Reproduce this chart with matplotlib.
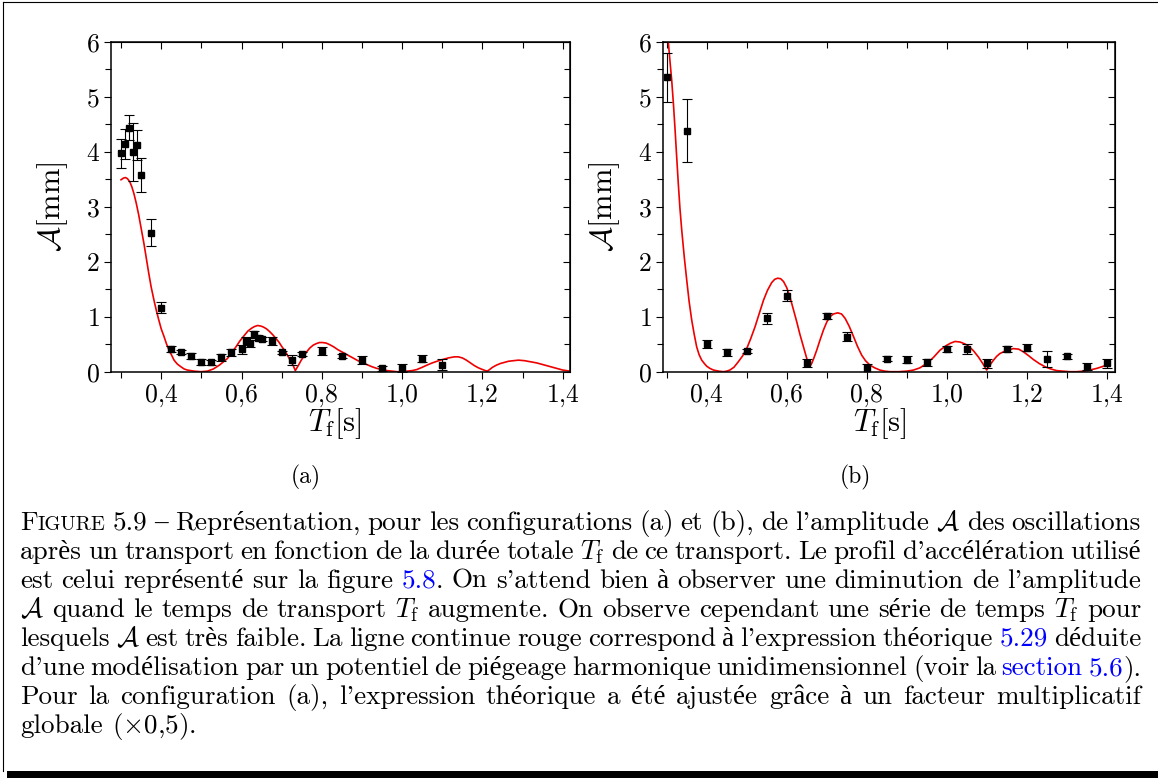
import numpy as np
import matplotlib
matplotlib.use("Agg")
import matplotlib.pyplot as plt
from matplotlib.ticker import MultipleLocator, FuncFormatter
from matplotlib.lines import Line2D
from matplotlib.patches import Rectangle

plt.rcParams['font.family'] = ['cmr10', 'Liberation Serif']
plt.rcParams['mathtext.fontset'] = 'cm'
plt.rcParams['axes.formatter.use_mathtext'] = True

# ---- data, configuration (a) ----
xa = [0.300, 0.311, 0.320, 0.330, 0.340, 0.350, 0.375, 0.400, 0.425, 0.450,
      0.475, 0.500, 0.525, 0.550, 0.575, 0.600, 0.610, 0.620, 0.630, 0.640,
      0.650, 0.675, 0.700, 0.725, 0.750, 0.800, 0.850, 0.900, 0.950, 1.000,
      1.050, 1.100]
ya = [3.97, 4.14, 4.44, 4.00, 4.12, 3.58, 2.53, 1.16, 0.41, 0.36,
      0.29, 0.18, 0.17, 0.26, 0.35, 0.41, 0.56, 0.53, 0.68, 0.62,
      0.59, 0.56, 0.35, 0.21, 0.32, 0.38, 0.29, 0.21, 0.06, 0.07,
      0.24, 0.13]
ea = [0.26, 0.28, 0.23, 0.53, 0.27, 0.31, 0.24, 0.10, 0.06, 0.04,
      0.05, 0.06, 0.05, 0.06, 0.07, 0.08, 0.07, 0.08, 0.06, 0.04,
      0.04, 0.07, 0.03, 0.09, 0.04, 0.07, 0.04, 0.07, 0.04, 0.07,
      0.07, 0.10]

# theory curve (a)
ta_x = [0.300, 0.306, 0.311, 0.316, 0.322, 0.327, 0.332, 0.338, 0.344, 0.350,
        0.357, 0.363, 0.369, 0.375, 0.382, 0.388, 0.394, 0.400, 0.407, 0.413,
        0.419, 0.426, 0.432, 0.440, 0.449, 0.457, 0.465, 0.482, 0.499, 0.515,
        0.530, 0.545, 0.555, 0.565, 0.575, 0.586, 0.596, 0.607, 0.616, 0.625,
        0.632, 0.640, 0.648, 0.655, 0.662, 0.670, 0.678, 0.685, 0.693, 0.700,
        0.708, 0.715, 0.721, 0.726, 0.730, 0.734, 0.738, 0.742, 0.748, 0.755,
        0.762, 0.770, 0.778, 0.786, 0.794, 0.802, 0.811, 0.820, 0.830, 0.840,
        0.850, 0.860, 0.870, 0.880, 0.890, 0.900, 0.912, 0.925, 0.937, 0.950,
        0.962, 0.975, 0.987, 1.000, 1.012, 1.025, 1.037, 1.050, 1.062, 1.075,
        1.087, 1.100, 1.115, 1.130, 1.140, 1.150, 1.160, 1.170, 1.180, 1.190,
        1.200, 1.207, 1.212, 1.218, 1.225, 1.235, 1.245, 1.255, 1.265, 1.277,
        1.290, 1.305, 1.320, 1.335, 1.350, 1.365, 1.380, 1.390, 1.400, 1.418]
ta_y = [3.49, 3.52, 3.53, 3.51, 3.45, 3.36, 3.24, 3.06, 2.85, 2.61,
        2.33, 2.06, 1.79, 1.54, 1.30, 1.11, 0.94, 0.78, 0.64, 0.51,
        0.40, 0.30, 0.21, 0.14, 0.09, 0.05, 0.03, 0.01, 0.00, 0.01,
        0.05, 0.12, 0.18, 0.24, 0.34, 0.45, 0.56, 0.66, 0.74, 0.79,
        0.82, 0.84, 0.83, 0.81, 0.78, 0.73, 0.67, 0.61, 0.54, 0.46,
        0.38, 0.29, 0.21, 0.15, 0.09, 0.02, 0.07, 0.12, 0.20, 0.28,
        0.36, 0.43, 0.48, 0.51, 0.53, 0.53, 0.52, 0.49, 0.45, 0.40,
        0.36, 0.32, 0.28, 0.24, 0.20, 0.17, 0.13, 0.09, 0.06, 0.04,
        0.02, 0.01, 0.00, 0.00, 0.01, 0.02, 0.04, 0.08, 0.12, 0.16,
        0.19, 0.22, 0.25, 0.27, 0.27, 0.25, 0.21, 0.16, 0.11, 0.07,
        0.04, 0.02, 0.01, 0.04, 0.08, 0.12, 0.15, 0.17, 0.19, 0.20,
        0.21, 0.20, 0.18, 0.16, 0.13, 0.10, 0.07, 0.05, 0.03, 0.01]

# ---- data, configuration (b) ----
xb = [0.30, 0.35, 0.40, 0.45, 0.50, 0.55, 0.60, 0.65, 0.70, 0.75,
      0.80, 0.85, 0.90, 0.95, 1.00, 1.05, 1.10, 1.15, 1.20, 1.25,
      1.30, 1.35, 1.40]
yb = [5.35, 4.38, 0.51, 0.35, 0.38, 0.97, 1.38, 0.16, 1.01, 0.64,
      0.06, 0.24, 0.22, 0.17, 0.41, 0.42, 0.15, 0.41, 0.44, 0.23,
      0.28, 0.09, 0.15]
eb = [0.45, 0.57, 0.07, 0.07, 0.04, 0.10, 0.10, 0.08, 0.06, 0.09,
      0.08, 0.04, 0.07, 0.06, 0.06, 0.09, 0.09, 0.05, 0.07, 0.15,
      0.05, 0.06, 0.08]

tb_x = [0.300, 0.304, 0.308, 0.3125, 0.317, 0.321, 0.325, 0.329, 0.333, 0.3375,
        0.344, 0.350, 0.356, 0.3625, 0.369, 0.375, 0.381, 0.3875, 0.394, 0.400,
        0.408, 0.417, 0.430, 0.442, 0.450, 0.458, 0.468, 0.479, 0.490, 0.500,
        0.510, 0.521, 0.531, 0.542, 0.552, 0.5625, 0.570, 0.5775, 0.585, 0.592,
        0.600, 0.608, 0.616, 0.625, 0.633, 0.642, 0.649, 0.655, 0.659, 0.6625,
        0.668, 0.675, 0.683, 0.692, 0.700, 0.708, 0.717, 0.7275, 0.737, 0.746,
        0.756, 0.767, 0.777, 0.7875, 0.797, 0.808, 0.820, 0.833, 0.845, 0.858,
        0.880, 0.900, 0.917, 0.933, 0.950, 0.967, 0.983, 1.000, 1.010, 1.021,
        1.033, 1.044, 1.054, 1.067, 1.079, 1.090, 1.100, 1.108, 1.117, 1.125,
        1.133, 1.150, 1.167, 1.180, 1.192, 1.205, 1.217, 1.231, 1.246, 1.260,
        1.275, 1.290, 1.308, 1.325, 1.342, 1.358, 1.375, 1.388, 1.400]
tb_y = [6.30, 6.00, 5.66, 5.30, 4.85, 4.39, 3.90, 3.42, 2.98, 2.58,
        2.08, 1.67, 1.28, 0.94, 0.67, 0.45, 0.31, 0.21, 0.15, 0.10,
        0.06, 0.03, 0.01, 0.00, 0.01, 0.03, 0.08, 0.18, 0.29, 0.42,
        0.60, 0.82, 1.05, 1.30, 1.48, 1.62, 1.68, 1.70, 1.69, 1.64,
        1.53, 1.36, 1.15, 0.91, 0.68, 0.45, 0.27, 0.12, 0.11, 0.15,
        0.25, 0.39, 0.57, 0.76, 0.90, 1.00, 1.05, 1.07, 1.05, 0.97,
        0.83, 0.64, 0.46, 0.30, 0.20, 0.12, 0.07, 0.03, 0.01, 0.00,
        0.00, 0.01, 0.03, 0.07, 0.15, 0.26, 0.39, 0.48, 0.52, 0.55,
        0.54, 0.51, 0.47, 0.38, 0.27, 0.15, 0.03, 0.12, 0.21, 0.28,
        0.33, 0.39, 0.42, 0.41, 0.36, 0.29, 0.22, 0.15, 0.09, 0.05,
        0.02, 0.01, 0.00, 0.00, 0.01, 0.03, 0.06, 0.09, 0.12]

caption = [
    "FIGURE 5.9 – Représentation, pour les configurations (a) et (b), de l'amplitude $\\mathcal{A}$ des oscillations",
    "après un transport en fonction de la durée totale $T_\\mathrm{f}$ de ce transport. Le profil d'accélération utilisé",
    "est celui représenté sur la figure #5.8#. On s'attend bien à observer une diminution de l'amplitude",
    "$\\mathcal{A}$ quand le temps de transport $T_\\mathrm{f}$ augmente. On observe cependant une série de temps $T_\\mathrm{f}$ pour",
    "lesquels $\\mathcal{A}$ est très faible. La ligne continue rouge correspond à l'expression théorique #5.29# déduite",
    "d'une modélisation par un potentiel de piégeage harmonique unidimensionnel (voir la #section# #5.6#).",
    "Pour la configuration (a), l'expression théorique a été ajustée grâce à un facteur multiplicatif",
    "globale ($\\times$0,5).",
]

W, H = 1158, 778
fig = plt.figure(figsize=(W / 100, H / 100), dpi=100)

ax1 = fig.add_axes([111 / W, 1 - 371.7 / H, 459 / W, 330 / H])
ax2 = fig.add_axes([662.7 / W, 1 - 371.7 / H, 452.6 / W, 330 / H])

panels = [(ax1, xa, ya, ea, ta_x, ta_y, (0.275, 1.418), 0.488, 306, "(a)"),
          (ax2, xb, yb, eb, tb_x, tb_y, (0.29, 1.4215), 0.48, 855, "(b)")]

comma = FuncFormatter(lambda v, p: f"{v:.1f}".replace(".", ","))

for ax, x, y, e, tx, ty, xl, xlab_pos, tag_x, tag in panels:
    ax.plot(tx, ty, color="#ee0000", lw=1.2, zorder=2)
    ax.errorbar(x, y, yerr=e, fmt="s", color="black", ms=4.2, capsize=3.3,
                elinewidth=0.8, capthick=0.8, zorder=3)
    ax.set_xlim(*xl)
    ax.set_ylim(0, 6)
    ax.xaxis.set_major_locator(MultipleLocator(0.2))
    ax.xaxis.set_minor_locator(MultipleLocator(0.1))
    ax.yaxis.set_major_locator(MultipleLocator(1))
    ax.yaxis.set_minor_locator(MultipleLocator(0.5))
    ax.xaxis.set_major_formatter(comma)
    ax.tick_params(which="both", direction="out", labelsize=18.5, width=0.8, pad=3)
    ax.tick_params(which="major", length=5)
    ax.tick_params(which="minor", length=4)
    for s in ax.spines.values():
        s.set_linewidth(1.1)
    # inward ticks on top and right
    top = ax.secondary_xaxis("top")
    top.xaxis.set_major_locator(MultipleLocator(0.2))
    top.xaxis.set_minor_locator(MultipleLocator(0.1))
    top.tick_params(which="both", direction="in", labeltop=False, width=0.8)
    top.tick_params(which="major", length=5)
    top.tick_params(which="minor", length=4)
    right = ax.secondary_yaxis("right")
    right.yaxis.set_major_locator(MultipleLocator(1))
    right.yaxis.set_minor_locator(MultipleLocator(0.5))
    right.tick_params(which="both", direction="in", labelright=False, width=0.8)
    right.tick_params(which="major", length=5)
    right.tick_params(which="minor", length=4)
    ax.set_ylabel(r"$\mathcal{A}[\mathrm{mm}]$", fontsize=22)
    ax.yaxis.set_label_coords(-0.09, 0.5)
    ax.set_xlabel(r"$T_\mathrm{f}[\mathrm{s}]$", fontsize=22)
    ax.xaxis.set_label_coords(xlab_pos, -0.105)
    fig.text(tag_x / W, 1 - 477 / H, tag, ha="center", va="center", fontsize=17)

# frame (shadow box)
fig.add_artist(Line2D([3 / W, 3 / W], [1 - 2 / H, 1 - 771 / H], color="black", lw=0.8))
fig.add_artist(Line2D([3 / W, 1], [1 - 2 / H, 1 - 2 / H], color="black", lw=0.8))
fig.add_artist(Rectangle((7 / W, 0), 1 - 7 / W, 7 / H, color="black", lw=0))

# caption, justified word by word
fs = 19.5
fig.canvas.draw()
rend = fig.canvas.get_renderer()


def width(txt, size):
    t = fig.text(0, 0, txt, fontsize=size)
    w = t.get_window_extent(rend).width
    t.remove()
    return w


def pieces(word):
    if word == "FIGURE":
        return [("F", fs, "black"), ("IGURE", fs * 0.76, "black")]
    parts = word.split("#")
    return [(p, fs, "blue" if i % 2 else "black") for i, p in enumerate(parts) if p]


x_left, x_right = 20, 1141
y0, dy = 530, 29
for k, line in enumerate(caption):
    words = [pieces(w) for w in line.split(" ")]
    widths = [[width(p, s) for p, s, c in wd] for wd in words]
    total = sum(sum(w) for w in widths)
    if k < len(caption) - 1:
        gap = (x_right - x_left - total) / (len(words) - 1)
    else:
        gap = 0.333 * fs * 100 / 72
    xpos = x_left
    ypos = 1 - (y0 + k * dy) / H
    for wd, ws in zip(words, widths):
        for (p, s, c), w in zip(wd, ws):
            fig.text(xpos / W, ypos, p, fontsize=s, color=c, va="baseline", ha="left")
            xpos += w
        xpos += gap

fig.savefig("out.png", dpi=100)
